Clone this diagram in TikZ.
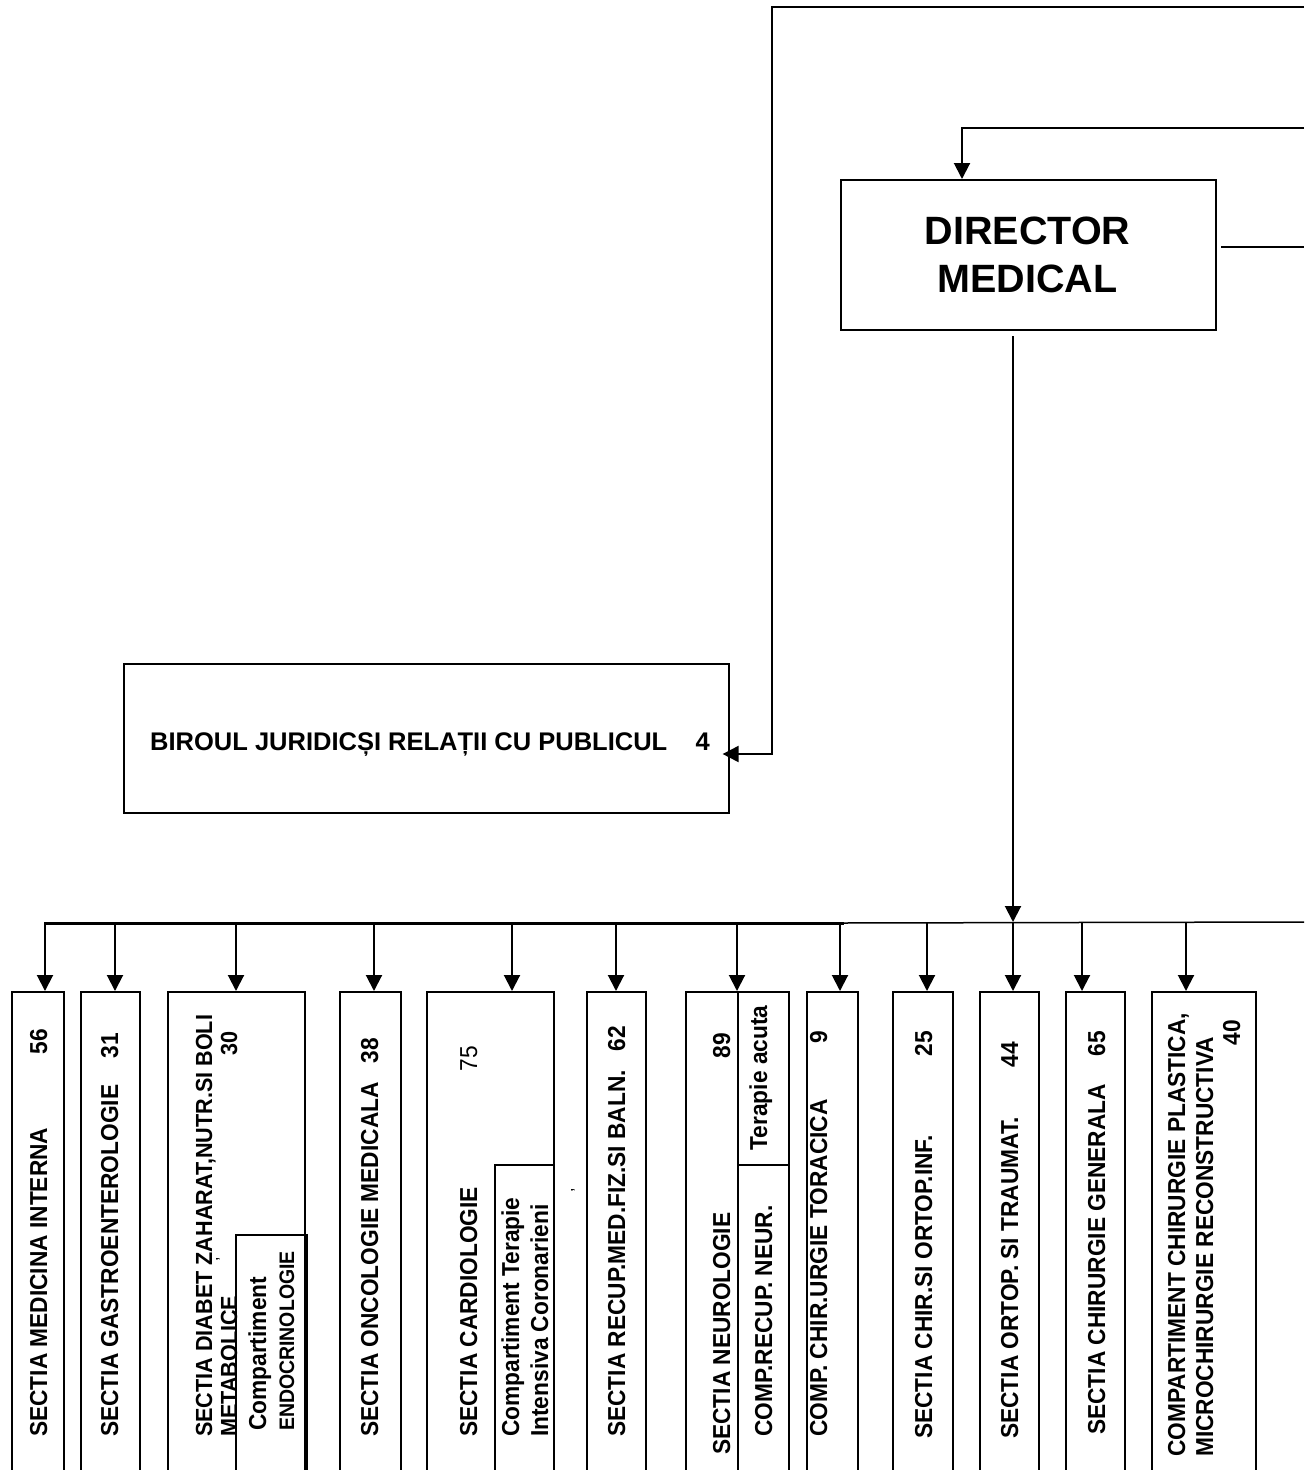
\documentclass[tikz,border=0pt]{standalone}
\usepackage{fontspec}
\setmainfont{Liberation Sans}
\newfontfamily\nbfont[FakeStretch=0.927]{Liberation Sans}
\usetikzlibrary{arrows.meta}
\tikzset{
  box/.style={draw, line width=1.6pt, inner sep=0pt, anchor=north west},
  conn/.style={line width=2pt},
  arr/.style={line width=2pt, -{Triangle[length=16pt,width=16pt]}},
  lab/.style={rotate=90, inner sep=0pt, anchor=base west, font=\nbfont\bfseries\fontsize{24.5}{28}\selectfont},
  num/.style={rotate=90, inner sep=0pt, anchor=base east, font=\nbfont\bfseries\fontsize{24.5}{28}\selectfont},
}
\begin{document}
\begin{tikzpicture}[x=1pt,y=-1pt]
\useasboundingbox (0,0) rectangle (1304,1470);
\clip (0,0) rectangle (1304,1470);

% ---------- director ----------
\node[box, minimum width=375pt, minimum height=150pt] (dir) at (840,179) {};
\node[font=\bfseries\fontsize{39.5}{48}\selectfont, align=center, inner sep=0pt] (dirt) at (1027.5,255) {DIRECTOR\\MEDICAL};

% ---------- biroul ----------
\node[box, minimum width=605pt, minimum height=149pt] (bir) at (123,663) {};
\node[font=\bfseries\fontsize{25.5}{30}\selectfont, anchor=base west, inner sep=0pt] (birt) at (150,750) {BIROUL JURIDICȘI RELAȚII CU PUBLICUL};
\node[font=\bfseries\fontsize{25.5}{30}\selectfont, anchor=base east, inner sep=0pt] (birn) at (710,750) {4};

% ---------- top connectors ----------
\coordinate (r1) at (1304,7);
\coordinate (k1) at (772,7);
\coordinate (k2) at (772,754);
\draw[arr] (r1) -- (k1) -- (k2) -- ([xshift=-7pt]k2 -| bir.east);

\coordinate (r2) at (1304,128);
\coordinate (k3) at (962,128);
\draw[arr] (r2) -- (k3) -- (k3 |- dir.north);

\coordinate (r3) at (1304,247);
\coordinate (k4) at (1221,247);
\draw[conn] (k4) -- (r3);

\coordinate (k5) at (1013,336);
\coordinate (busD) at (1013,922);
\draw[arr] (k5) -- (busD);

% ---------- bus ----------
\coordinate (busL) at (45,923);
\coordinate (busM) at (842,923);
\coordinate (busR) at (1304,922);
\draw[line width=3pt, line cap=rect] (busL) -- (busM);
\draw[line width=1.5pt] (busM) -- (busR);

% ---------- bottom boxes ----------
\node[box, minimum width=52pt, minimum height=500pt] (b1) at (11,991) {};
\node[box, minimum width=59pt, minimum height=500pt] (b2) at (80,991) {};
\node[box, minimum width=137pt, minimum height=500pt] (b3) at (167,991) {};
\node[box, minimum width=71pt, minimum height=300pt] (b3i) at (235,1234) {};
\node[box, minimum width=61pt, minimum height=500pt] (b4) at (339,991) {};
\node[box, minimum width=127pt, minimum height=500pt] (b5) at (426,991) {};
\node[box, minimum width=59pt, minimum height=330pt] (b5i) at (494,1164) {};
\node[box, minimum width=59pt, minimum height=500pt] (b6) at (586,991) {};
\node[box, minimum width=103pt, minimum height=500pt] (b7) at (685,991) {};
\node[box, minimum width=51pt, minimum height=173pt] (b7a) at (737,991) {};
\node[box, minimum width=51pt, minimum height=330pt] (b7b) at (737,1164) {};
\node[box, minimum width=51pt, minimum height=500pt] (b8) at (806,991) {};
\node[box, minimum width=60pt, minimum height=500pt] (b9) at (892,991) {};
\node[box, minimum width=59pt, minimum height=500pt] (b10) at (979,991) {};
\node[box, minimum width=59pt, minimum height=500pt] (b11) at (1065,991) {};
\node[box, minimum width=104pt, minimum height=500pt] (b12) at (1151,991) {};

% ---------- taps ----------
\coordinate (t1) at (45,923);
\coordinate (t2) at (115,923);
\coordinate (t3) at (236,923);
\coordinate (t4) at (374,923);
\coordinate (t5) at (512,923);
\coordinate (t6) at (616,923);
\coordinate (t7) at (737,923);
\coordinate (t8) at (840,922);
\coordinate (t9) at (927,922);
\coordinate (t10) at (1013,922);
\coordinate (t11) at (1082,922);
\coordinate (t12) at (1186,922);
\draw[arr] (t1) -- (t1 |- b1.north);
\draw[arr] (t2) -- (t2 |- b2.north);
\draw[arr] (t3) -- (t3 |- b3.north);
\draw[arr] (t4) -- (t4 |- b4.north);
\draw[arr] (t5) -- (t5 |- b5.north);
\draw[arr] (t6) -- (t6 |- b6.north);
\draw[arr] (t7) -- (t7 |- b7.north);
\draw[arr] (t8) -- (t8 |- b8.north);
\draw[arr] (t9) -- (t9 |- b9.north);
\draw[arr] (t10) -- (t10 |- b10.north);
\draw[arr] (t11) -- (t11 |- b11.north);
\draw[arr] (t12) -- (t12 |- b12.north);

% ---------- labels ----------
\node[lab] (l1) at (47,1437) {SECTIA MEDICINA INTERNA};
\node[num] (n1) at (47,1029) {56};
\node[lab] (l2) at (118,1437) {SECTIA GASTROENTEROLOGIE};
\node[num] (n2) at (118,1033) {31};
\node[lab, font=\nbfont\bfseries\fontsize{23.3}{27}\selectfont] (l3) at (212,1437) {SECTIA DIABET ZAHARAT,NUTR.SI BOLI};
\node[lab, font=\nbfont\bfseries\fontsize{23.3}{27}\selectfont] (l3b) at (237,1437) {METABOLICE};
\node[num, font=\nbfont\bfseries\fontsize{23.3}{27}\selectfont] (n3) at (237,1031) {30};
\node[rotate=90, inner sep=0pt, font=\fontsize{16}{16}\selectfont] (m1) at (218,1259) {,};
\node[lab] (l3i) at (266,1431) {Compartiment};
\node[lab, font=\nbfont\bfseries\fontsize{21}{25}\selectfont] (l3j) at (294,1431) {ENDOCRINOLOGIE};
\node[lab] (l4) at (378,1437) {SECTIA ONCOLOGIE MEDICALA};
\node[num] (n4) at (378,1038) {38};
\node[lab] (l5) at (477,1437) {SECTIA CARDIOLOGIE};
\node[num, font=\nbfont\fontsize{24.5}{28}\selectfont] (n5) at (477,1046) {75};
\node[lab] (l5i) at (519,1437) {Compartiment Terapie};
\node[lab] (l5j) at (548,1437) {Intensiva Coronarieni};
\node[rotate=90, inner sep=0pt, font=\fontsize{16}{16}\selectfont] (m2) at (573,1190) {,};
\node[lab] (l6) at (625,1437) {SECTIA RECUP.MED.FIZ.SI BALN.};
\node[num] (n6) at (625,1026) {62};
\node[lab] (l7) at (730,1455) {SECTIA NEUROLOGIE};
\node[num] (n7) at (730,1033) {89};
\node[lab, anchor=base] (l7a) at (767,1078) {Terapie acuta};
\node[lab] (l7b) at (772,1437) {COMP.RECUP. NEUR.};
\node[lab] (l8) at (827,1437) {COMP. CHIR.URGIE TORACICA};
\node[num] (n8) at (827,1031) {9};
\node[lab] (l9) at (932,1439) {SECTIA CHIR.SI ORTOP.INF.};
\node[num] (n9) at (932,1031) {25};
\node[lab] (l10) at (1018,1439) {SECTIA ORTOP. SI TRAUMAT.};
\node[num] (n10) at (1018,1042) {44};
\node[lab] (l11) at (1105,1435) {SECTIA CHIRURGIE GENERALA};
\node[num] (n11) at (1105,1031) {65};
\node[lab] (l12) at (1185,1457) {COMPARTIMENT CHIRURGIE PLASTICA,};
\node[lab] (l12b) at (1213,1457) {MICROCHIRURGIE RECONSTRUCTIVA};
\node[num] (n12) at (1240,1020) {40};
\end{tikzpicture}
\end{document}
